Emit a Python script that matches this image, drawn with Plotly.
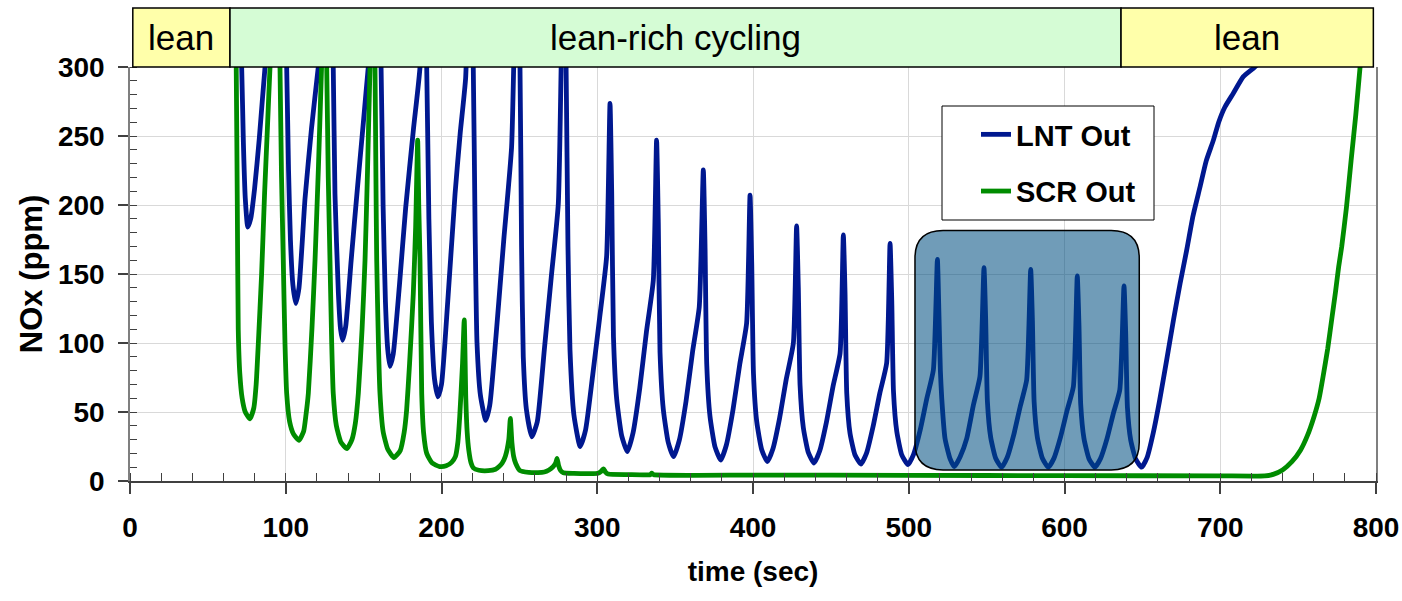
import plotly.graph_objects as go

# ---------------- data ----------------
lnt_time = [0, 64, 67, 68.5, 70, 71.7, 72.8, 74, 75.6, 77.5, 80, 83, 86.7, 90, 94, 96.5, 98, 99.3, 100.6,
            101.8, 103, 104.6, 106.4, 108.5, 112.4, 116.5, 120.9, 124, 126.5, 128, 129.3, 130.5, 131.6, 133.8,
            135.2, 136.5, 138.5, 142, 146, 150, 153, 156, 158, 159.6, 161.2, 162.5, 164, 165.5, 166.9, 169,
            173, 177, 182, 186.2, 188, 189.3, 190.5, 191.9, 193.5, 195.5, 197.7, 200, 204, 208.7, 212, 215.5,
            218, 219.2, 220.4, 221.6, 222.8, 225, 228.4, 231, 235, 240, 245, 248, 249.3, 250.4, 251.4, 252.5,
            254.5, 258, 261.5, 266, 270.5, 275, 278.3, 279.2, 280, 281.2, 282.5, 285, 289, 292.5, 297, 301.5,
            306,
            308.2, 309.3, 310.4, 312.5, 315.7, 319.3, 323, 327.3, 331.6, 336,
            338.1, 339.2, 340.3, 342.4, 345.6, 349, 352.7, 357, 361.2, 365.5,
            368.1, 369.2, 370.3, 372.4, 375.6, 379.3, 382.9, 387.2, 391.5, 395.9,
            398.1, 399.2, 400.3, 402.4, 405.6, 409.2, 412.8, 417.1, 421.4, 425.9,
            428, 429.1, 430.2, 432.3, 435.5, 439.2, 442.8, 447.1, 451.4, 455.9,
            458, 459.1, 460.2, 462.3, 465.5, 469.3, 472.9, 477.1, 481.4, 485.8,
            488, 489.1, 490.2, 492.3, 495.5, 499.5, 503.1, 507.4, 511.6, 515.8,
            518.4, 519.4, 520.3, 521.2, 523.3, 526.5, 529.3, 533, 537.2, 541.5, 545.7,
            548.3, 549.4, 550.5, 552.6, 555.8, 559.6, 563.2, 567.4, 571.6, 575.7,
            578.3, 579.4, 580.5, 582.6, 585.8, 589.6, 593.2, 597.4, 601.6, 605.7,
            608.2, 609.3, 610.4, 612.5, 615.7, 619.5, 623.1, 627.3, 631.4, 635.5,
            638.2, 639.3, 640.4, 642.5, 645.7, 649.5, 653, 657, 661, 665.6, 670, 674.2, 678.4, 682.5, 687,
            691, 695.6, 699, 703, 708.4, 714.8, 721.2, 726]
lnt_nox = [410, 410, 400, 380, 345, 300, 245, 205, 184, 190, 212, 248, 300, 335, 365, 380, 420, 350, 300,
           225, 175, 142, 128.7, 140, 205, 255, 300, 330, 350, 410, 345, 300, 208, 136,
           110, 102, 112, 160, 212, 262, 300, 330, 400, 340, 300, 200, 130, 95, 83, 92,
           142, 198, 255, 300, 390, 340, 300, 190, 115, 74, 61, 70, 130, 208, 252, 292,
           390, 340, 300, 180, 100, 62, 44, 55, 105, 175, 242, 380, 335, 300, 170, 90,
           52, 32, 43, 95, 148, 201, 400, 340, 300, 170, 95, 48, 25, 37, 76, 118,
           162.5,
           273.7, 208, 104.6, 59.2, 32.7, 21.3, 35, 67.3, 108.3, 145.6,
           247, 187.4, 93.3, 52, 27.9, 17.6, 29.6, 57.8, 93.7, 126.3,
           225.4, 170.7, 84.6, 46.7, 24.7, 15.2, 26.1, 51.9, 84.6, 114.3,
           207.2, 157, 77.8, 43, 22.7, 14, 23.4, 45.7, 74.1, 99.8,
           184.8, 140.1, 69.7, 38.8, 20.7, 13, 21.7, 42.4, 68.7, 92.5,
           178.3, 136, 63.5, 34.5, 18.8, 12.3, 20.2, 39.5, 63.5, 85.3,
           172.2, 130.5, 64.7, 35.9, 19, 11.8, 19.3, 37.2, 59.8, 80.4,
           160.6, 120, 80, 59.6, 30.7, 16.2, 10.4, 17.6, 30.7, 55, 75.6,
           154.6, 117, 57.7, 31.7, 16.5, 10, 17, 33.4, 54.2, 73.2,
           153.4, 116.1, 57.3, 31.5, 16.5, 10, 16.4, 31.6, 50.9, 68.4,
           148.6, 112.6, 55.7, 30.8, 16.2, 10, 16.2, 30.7, 49.2, 66,
           141.3, 107.2, 53.3, 29.7, 15.9, 10, 17, 35, 58, 87.7, 117, 143, 167, 192, 213,
           232, 247, 260, 271, 281, 293, 299, 304]

scr_time = [0, 66, 67.3, 68.2, 68.9, 69.5, 70.5, 72, 74, 77, 79.5, 81, 82.4, 84.5, 86.4, 88.2, 89.9, 92,
            94.5, 95.5, 96.3, 97.3, 98.4, 99.5, 100.6, 102.5, 105, 108.5, 111.5, 113, 114.5, 116.8, 118.8,
            121, 123, 124.5, 125.5, 126.3, 127.3, 128.4, 129.5, 130.5, 132.5, 135.5, 139.3, 142.5, 144.7,
            146.6, 149, 150.9, 152.5, 154.1, 155.5, 156.5, 157.3, 157.9, 158.4, 159.5, 160.5, 162.5, 165.5,
            169.5, 173.5, 176, 177.6, 179.5, 181.9, 183.4, 184.7, 185.4, 186.2, 187.3, 188.5, 190.5, 194,
            198.8, 203, 206.5, 208.9, 210.5, 211.7, 213.5, 214.6, 215.6, 216.5, 217.5, 219, 220.4, 224, 230,
            234.7, 237, 238.9, 241, 243.2, 244.2, 245.2, 246.3, 247.6, 250.4, 256, 262, 266, 269, 271.7,
            273.3, 274.2, 275.2, 276.5, 278.2, 285, 295, 300.5, 302.5, 304, 305.3, 307, 320, 334, 335, 336.2,
            400, 500, 600, 700, 728.6, 734, 740, 746, 751.6, 756, 760.2, 763.5, 766, 769, 771.8, 774, 776,
            778, 781, 784, 787, 789.7, 792]
scr_nox = [420, 410, 360, 300, 200, 110, 78, 60, 50, 45, 53, 70, 100, 150, 208, 255, 300, 340,
           370, 360, 300, 220, 160, 100, 63.5, 43, 34, 29.5, 36, 48, 63.5, 110, 160,
           228, 300, 350, 340, 300, 220, 160, 100, 63.5, 40, 28, 23.5, 30, 42,
           63.5, 110, 160, 225, 300, 350, 345, 300, 220, 160, 100, 63.5, 36, 23,
           17, 22, 35, 51.3, 85, 136, 184, 247, 200, 160, 63.5, 35, 20, 13,
           10.5, 11, 13.5, 17.6, 28, 46.6, 85, 116.7, 60, 35, 22.5, 13, 9.5, 7.8, 7.5,
           8.5, 10.5, 12.9, 18, 30, 45.4, 28, 18, 12.9, 7.5, 6.3, 6.1, 6.5, 8, 10.4,
           13, 16.4, 11, 7.5, 6, 5.5, 5.3, 5.6, 7, 8.8, 6.5, 5, 4.6, 4.6, 5.6, 4.6,
           4.3, 4.1, 3.9, 3.7, 3.7, 4.8, 8, 14, 22.5, 33, 46.6, 60, 75.6, 96, 119, 137, 155,
           170, 198, 232, 265, 299, 325]

phase_labels = ["lean", "lean-rich cycling", "lean"]
phase_bounds = [1.8, 64.2, 636.3, 798.3]
phase_colors = ["#FFFFAA", "#D5FCD5", "#FFFFAA"]

x_ticks = [0, 100, 200, 300, 400, 500, 600, 700, 800]
y_ticks = [0, 50, 100, 150, 200, 250, 300]

FONT = "Liberation Sans, Arial, sans-serif"
X_MAX, Y_MAX = 800, 300

# plot-area geometry in pixels (for placing the paper-referenced legend box)
PL, PR, PT, PB = 130, 1376, 67, 481
def paper_x(px):
    return (px - PL) / (PR - PL)
def paper_y(py):
    return (PB - py) / (PB - PT)

fig = go.Figure()
fig.add_trace(go.Scatter(x=lnt_time, y=lnt_nox, mode="lines", name="LNT Out", legendgroup="lnt",
                         line=dict(color="#00188F", width=4.8, shape="spline", smoothing=0.5)))
fig.add_trace(go.Scatter(x=scr_time, y=scr_nox, mode="lines", name="SCR Out", legendgroup="scr",
                         line=dict(color="#008C00", width=4.8, shape="spline", smoothing=0.5)))

shapes = []
annotations = []
bar_y0, bar_y1 = 1.0, 1.1425
for i, lab in enumerate(phase_labels):
    x0 = phase_bounds[i] / X_MAX
    x1 = phase_bounds[i + 1] / X_MAX
    shapes.append(dict(type="rect", xref="paper", yref="paper", x0=x0, x1=x1, y0=bar_y0, y1=bar_y1,
                       fillcolor=phase_colors[i], line=dict(color="black", width=1.5), layer="above"))
    annotations.append(dict(xref="paper", yref="paper", x=(x0 + x1) / 2, y=(bar_y0 + bar_y1) / 2,
                            text=lab, showarrow=False, xanchor="center", yanchor="middle",
                            font=dict(family=FONT, size=35, color="black")))

# rounded highlight box
bx0, bx1, by0, by1 = 504, 648, 8, 181.5
rx, ry = 18, 20
path = (f"M {bx0+rx},{by0} L {bx1-rx},{by0} Q {bx1},{by0} {bx1},{by0+ry} "
        f"L {bx1},{by1-ry} Q {bx1},{by1} {bx1-rx},{by1} L {bx0+rx},{by1} "
        f"Q {bx0},{by1} {bx0},{by1-ry} L {bx0},{by0+ry} Q {bx0},{by0} {bx0+rx},{by0} Z")
shapes.append(dict(type="path", xref="x", yref="y", path=path,
                   fillcolor="rgba(0,79,128,0.56)", line=dict(color="black", width=1.5), layer="above"))

# legend frame
shapes.append(dict(type="rect", xref="paper", yref="paper",
                   x0=paper_x(942), x1=paper_x(1154), y0=paper_y(220), y1=paper_y(106),
                   fillcolor="white", line=dict(color="black", width=1), layer="above"))

fig.update_layout(
    width=1402, height=601,
    margin=dict(l=PL, r=1402 - PR, t=PT, b=601 - PB, autoexpand=False),
    paper_bgcolor="white", plot_bgcolor="white",
    font=dict(family=FONT, color="black"),
    shapes=shapes, annotations=annotations,
    showlegend=True,
    legend=dict(x=paper_x(976), y=paper_y(109), xanchor="left", yanchor="top",
                bgcolor="rgba(0,0,0,0)", borderwidth=0,
                font=dict(family=FONT, size=29, weight="bold", color="black"),
                tracegroupgap=16, traceorder="grouped"),
)
fig.update_xaxes(
    range=[0, X_MAX], tickvals=x_ticks, ticktext=[str(v) for v in x_ticks],
    ticks="outside", ticklen=11, tickwidth=1.5, tickcolor="#404040",
    showline=True, linecolor="#404040", linewidth=2,
    showgrid=True, gridcolor="#D9D9D9", gridwidth=1.3, zeroline=False,
    minor=dict(dtick=20, ticks="inside", ticklen=8, tickwidth=1.3, tickcolor="#404040", showgrid=False),
    tickfont=dict(family=FONT, size=28, weight="bold", color="black"),
    ticklabelstandoff=9, automargin=False,
    title=dict(text="time (sec)", font=dict(family=FONT, size=28, weight="bold", color="black"),
               standoff=20),
)
fig.update_yaxes(
    range=[0, Y_MAX], tickvals=y_ticks, ticktext=[str(v) for v in y_ticks],
    ticks="outside", ticklen=10, tickwidth=1.5, tickcolor="#404040",
    showline=True, linecolor="#7F7F7F", linewidth=1.5, mirror=True,
    showgrid=True, gridcolor="#D9D9D9", gridwidth=1.3, zeroline=False,
    minor=dict(dtick=10, ticks="inside", ticklen=7, tickwidth=1.3, tickcolor="#404040", showgrid=False),
    tickfont=dict(family=FONT, size=28, weight="bold", color="black"),
    ticklabelstandoff=8, automargin=False,
    title=dict(text="NOx (ppm)", font=dict(family=FONT, size=31, weight="bold", color="black"),
               standoff=6),
)

fig.write_html("out.html", post_script="document.body.style.margin='0px';")
